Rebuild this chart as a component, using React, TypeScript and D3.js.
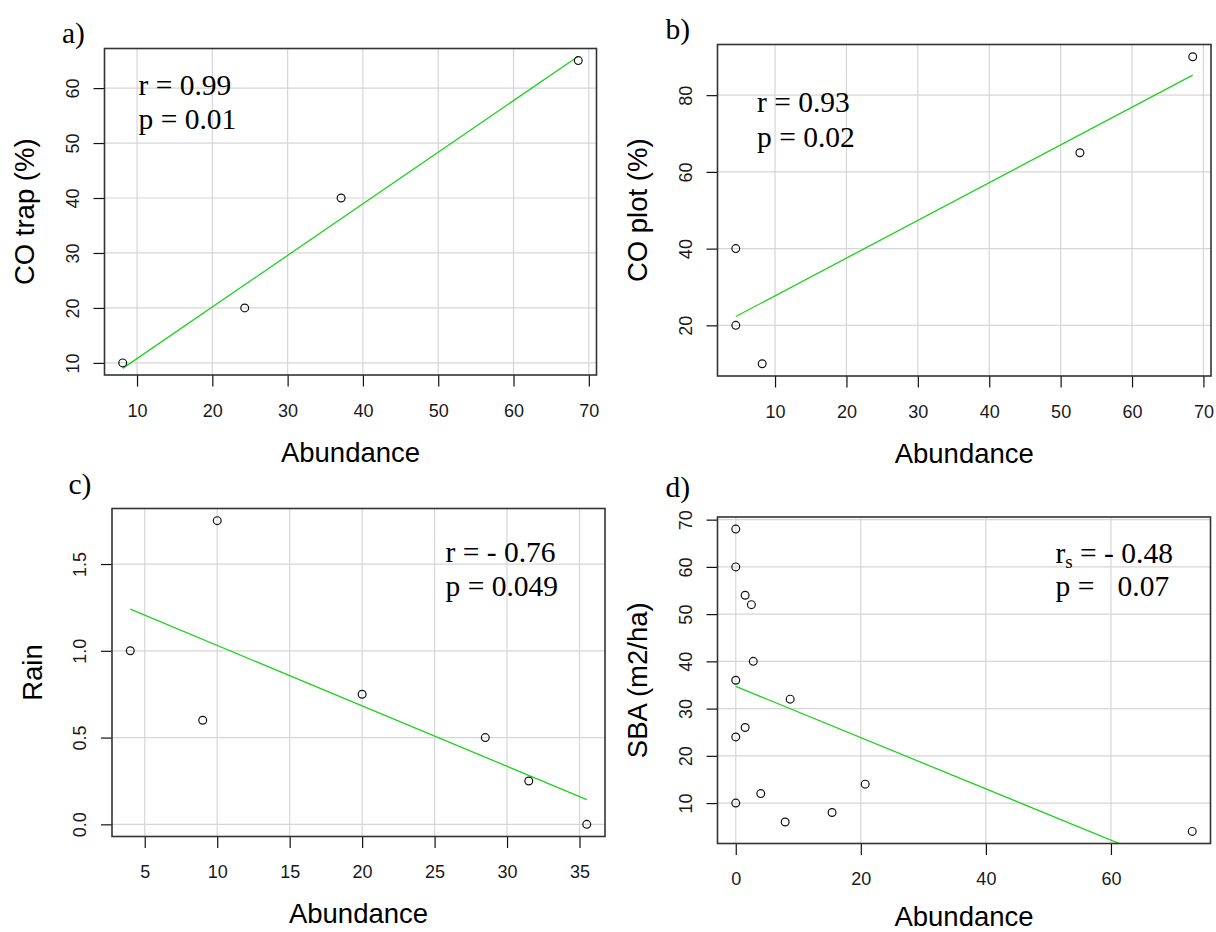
import { useEffect, useRef } from 'react'
import * as d3 from 'd3'

// a) CO trap vs abundance
const trapAbundance = [8.1, 24.3, 37.1, 68.6]
const trapCO = [10, 20, 40, 65]
const trapFit = [[8.1, 9.0], [68.6, 65.8]]
const trapXTicks = [10, 20, 30, 40, 50, 60, 70]
const trapYTicks = [10, 20, 30, 40, 50, 60]

// b) CO plot vs abundance
const plotAbundance = [4.5, 4.5, 8.2, 52.7, 68.5]
const plotCO = [40, 20, 10, 65, 90]
const plotFit = [[4.5, 22.3], [68.5, 85.2]]
const plotXTicks = [10, 20, 30, 40, 50, 60, 70]
const plotYTicks = [20, 40, 60, 80]

// c) rain vs abundance
const rainAbundance = [4, 9, 10, 20, 28.5, 31.5, 35.5]
const rainValues = [1.0, 0.6, 1.75, 0.75, 0.5, 0.25, 0]
const rainFit = [[4, 1.24], [35.5, 0.143]]
const rainXTicks = [5, 10, 15, 20, 25, 30, 35]
const rainYTicks = [0, 0.5, 1.0, 1.5]

// d) SBA vs abundance
const sbaAbundance = [0, 0, 1.5, 2.5, 2.8, 0, 8.7, 1.5, 0, 20.7, 4, 0, 15.4, 7.9, 73]
const sbaValues = [68, 60, 54, 52, 40, 36, 32, 26, 24, 14, 12, 10, 8, 6, 4]
const sbaFit = [[0, 34.7], [73, -4.9]]
const sbaXTicks = [0, 20, 40, 60]
const sbaYTicks = [10, 20, 30, 40, 50, 60, 70]

type Panel = {
  id: string
  tag: string
  xs: number[]
  ys: number[]
  fit: number[][]
  xTicks: number[]
  yTicks: number[]
  yFmt: (d: number) => string
  yTitle: string
  box: { l: number; t: number; r: number; b: number }
  tagPos: [number, number]
  statPos: [number, number, number]
}

const panels: Panel[] = [
  {
    id: 'a', tag: 'a)', xs: trapAbundance, ys: trapCO, fit: trapFit,
    xTicks: trapXTicks, yTicks: trapYTicks, yFmt: (d) => String(d), yTitle: 'CO trap (%)',
    box: { l: 104.5, t: 48.5, r: 596.5, b: 375 }, tagPos: [62, 42.5], statPos: [138.5, 95, 129],
  },
  {
    id: 'b', tag: 'b)', xs: plotAbundance, ys: plotCO, fit: plotFit,
    xTicks: plotXTicks, yTicks: plotYTicks, yFmt: (d) => String(d), yTitle: 'CO plot (%)',
    box: { l: 717.5, t: 44.5, r: 1211, b: 376 }, tagPos: [665.5, 39], statPos: [757, 111.5, 146.5],
  },
  {
    id: 'c', tag: 'c)', xs: rainAbundance, ys: rainValues, fit: rainFit,
    xTicks: rainXTicks, yTicks: rainYTicks, yFmt: (d) => d.toFixed(1), yTitle: 'Rain',
    box: { l: 112, t: 508.5, r: 605, b: 836.5 }, tagPos: [68.5, 494], statPos: [445.5, 562, 596],
  },
  {
    id: 'd', tag: 'd)', xs: sbaAbundance, ys: sbaValues, fit: sbaFit,
    xTicks: sbaXTicks, yTicks: sbaYTicks, yFmt: (d) => String(d), yTitle: 'SBA (m2/ha)',
    box: { l: 717.5, t: 517, r: 1210.5, b: 843.5 }, tagPos: [665.5, 497], statPos: [1055.5, 562.5, 596],
  },
]

const SANS = 'Arial, "Liberation Sans", Helvetica, sans-serif'
const SERIF = '"Times New Roman", "Liberation Serif", Times, serif'

// R-style axis range: data extent padded by 4% each side
function rRange(v: number[]): [number, number] {
  const [lo, hi] = d3.extent(v) as [number, number]
  const pad = (hi - lo) * 0.04
  return [lo - pad, hi + pad]
}

export default function App() {
  const svgRef = useRef<SVGSVGElement | null>(null)

  useEffect(() => {
    const svg = d3.select(svgRef.current)
    svg.selectAll('*').remove()
    svg.append('rect').attr('width', 1216).attr('height', 932).attr('fill', '#fff')

    panels.forEach((p) => {
      const { l, t, r, b } = p.box
      const x = d3.scaleLinear().domain(rRange(p.xs)).range([l, r])
      const y = d3.scaleLinear().domain(rRange(p.ys)).range([b, t])
      const g = svg.append('g')

      g.append('clipPath').attr('id', `clip-${p.id}`)
        .append('rect').attr('x', l).attr('y', t).attr('width', r - l).attr('height', b - t)

      // grid
      g.append('g').selectAll('line').data(p.xTicks).join('line')
        .attr('x1', (d) => x(d)).attr('x2', (d) => x(d)).attr('y1', t).attr('y2', b)
        .attr('stroke', '#d6d6d6').attr('stroke-width', 1.2)
      g.append('g').selectAll('line').data(p.yTicks).join('line')
        .attr('x1', l).attr('x2', r).attr('y1', (d) => y(d)).attr('y2', (d) => y(d))
        .attr('stroke', '#d6d6d6').attr('stroke-width', 1.2)

      // x axis
      g.append('g')
        .attr('transform', `translate(0,${b})`)
        .call(d3.axisBottom(x).tickValues(p.xTicks).tickSize(11.5).tickFormat((d) => String(d)))
        .call((ax) => ax.select('.domain').remove())
        .call((ax) => ax.selectAll('.tick line').attr('stroke', '#111').attr('stroke-width', 1.2))
        .call((ax) => ax.selectAll('text')
          .attr('y', 41.5).attr('dy', 0)
          .attr('fill', '#1a1a1a').attr('font-family', SANS).attr('font-size', 18))

      // y axis, labels rotated like R's las = 0
      g.append('g')
        .attr('transform', `translate(${l},0)`)
        .call(d3.axisLeft(y).tickValues(p.yTicks).tickSize(11).tickFormat((d) => p.yFmt(+d)))
        .call((ax) => ax.select('.domain').remove())
        .call((ax) => ax.selectAll('.tick line').attr('stroke', '#111').attr('stroke-width', 1.2))
        .call((ax) => ax.selectAll('text')
          .attr('transform', 'rotate(-90)')
          .attr('x', 0).attr('y', -26).attr('dy', 0)
          .attr('text-anchor', 'middle')
          .attr('fill', '#1a1a1a').attr('font-family', SANS).attr('font-size', 18))

      // fitted line
      g.append('path')
        .datum(p.fit)
        .attr('clip-path', `url(#clip-${p.id})`)
        .attr('fill', 'none').attr('stroke', '#1ed21e').attr('stroke-width', 1.3)
        .attr('d', d3.line<number[]>().x((d) => x(d[0])).y((d) => y(d[1])))

      // points
      g.append('g').selectAll('circle').data(p.xs.map((v, i) => [v, p.ys[i]])).join('circle')
        .attr('cx', (d) => x(d[0])).attr('cy', (d) => y(d[1])).attr('r', 3.9)
        .attr('fill', 'none').attr('stroke', '#111').attr('stroke-width', 1.2)

      // box
      g.append('rect').attr('x', l).attr('y', t).attr('width', r - l).attr('height', b - t)
        .attr('fill', 'none').attr('stroke', '#333').attr('stroke-width', 1.6)

      // titles
      g.append('text')
        .attr('x', (l + r) / 2).attr('y', Math.min(b + 86.5, 926))
        .attr('text-anchor', 'middle').attr('font-family', SANS).attr('font-size', 27.5)
        .attr('fill', '#000').text('Abundance')
      g.append('text')
        .attr('transform', `translate(${l - 70.5},${(t + b) / 2}) rotate(-90)`)
        .attr('text-anchor', 'middle').attr('font-family', SANS).attr('font-size', 27.5)
        .attr('fill', '#000').text(p.yTitle)

      g.append('text')
        .attr('x', p.tagPos[0]).attr('y', p.tagPos[1])
        .attr('font-family', SERIF).attr('font-size', 29.5).attr('fill', '#000').text(p.tag)

      // statistics
      const [sx, sy1, sy2] = p.statPos
      const st = g.append('g').attr('font-family', SERIF).attr('font-size', 29.5).attr('fill', '#000')
      if (p.id === 'a') {
        st.append('text').attr('x', sx).attr('y', sy1).text('r = 0.99')
        st.append('text').attr('x', sx).attr('y', sy2).text('p = 0.01')
      } else if (p.id === 'b') {
        st.append('text').attr('x', sx).attr('y', sy1).text('r = 0.93')
        st.append('text').attr('x', sx).attr('y', sy2).text('p = 0.02')
      } else if (p.id === 'c') {
        st.append('text').attr('x', sx).attr('y', sy1).text('r = - 0.76')
        st.append('text').attr('x', sx).attr('y', sy2).text('p = 0.049')
      } else {
        const t1 = st.append('text').attr('x', sx).attr('y', sy1)
        t1.append('tspan').text('r')
        t1.append('tspan').attr('font-size', 19).attr('dy', 5).text('s')
        t1.append('tspan').attr('dy', -5).text(' = - 0.48')
        const t2 = st.append('text').attr('x', sx).attr('y', sy2)
        t2.append('tspan').text('p =')
        t2.append('tspan').attr('x', sx + 62).text('0.07')
      }
    })
  }, [])

  return (
    <div style={{ position: 'absolute', left: 0, top: 0 }}>
      <svg ref={svgRef} width={1216} height={932} style={{ display: 'block' }} />
    </div>
  )
}
